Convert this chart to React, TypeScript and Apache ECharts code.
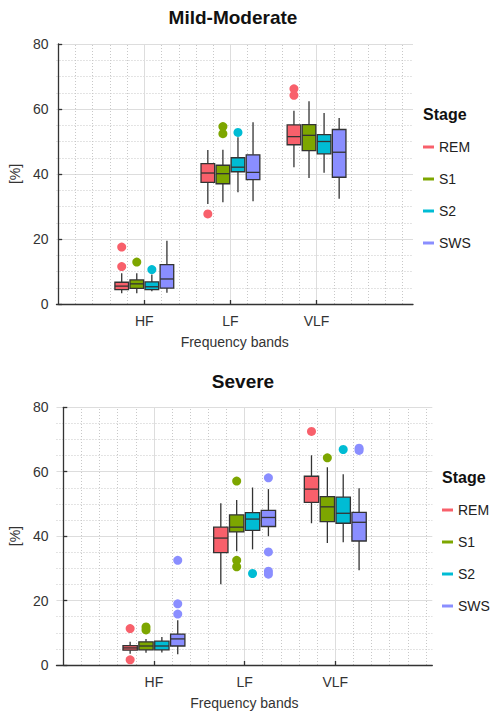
import React, { useEffect, useRef } from "react";
import * as echarts from "echarts";

// ---- data ----
const BANDS = ["HF", "LF", "VLF"];
const STAGES = ["REM", "S1", "S2", "SWS"];
const COLORS = ["#F8606B", "#7DA600", "#00BCD4", "#8A8EFF"];
const OFFSETS = [-0.2625, -0.0875, 0.0875, 0.2625];
const BOX_W = 0.158;

// [low, q1, median, q3, high] for HF, LF, VLF
const mmREM = [[3.3, 4.4, 5.5, 6.7, 9.5], [30.8, 37.4, 40.3, 43.2, 47.4], [42.1, 49.0, 51.5, 55.1, 59.5]];
const mmS1 = [[3.3, 4.8, 6.2, 7.4, 9.5], [31.3, 37.0, 40.1, 42.7, 47.5], [38.8, 47.2, 51.9, 55.2, 62.4]];
const mmS2 = [[3.9, 4.4, 5.3, 6.8, 9.1], [34.4, 40.7, 42.1, 45.0, 51.3], [40.4, 46.2, 50.0, 52.1, 58.8]];
const mmSWS = [[3.5, 4.9, 7.7, 12.1, 19.5], [31.6, 38.3, 40.5, 45.9, 55.9], [32.4, 39.0, 46.7, 53.7, 57.2]];

const svREM = [[3.5, 4.6, 5.3, 6.0, 7.2], [25.1, 34.9, 39.4, 42.8, 50.2], [44.0, 50.5, 54.6, 58.6, 65.1]];
const svS1 = [[3.8, 4.7, 5.9, 7.2, 8.1], [35.3, 41.3, 42.8, 46.6, 51.2], [37.9, 44.5, 49.1, 52.3, 61.4]];
const svS2 = [[3.9, 4.7, 5.9, 7.4, 8.7], [35.9, 41.8, 45.3, 47.3, 55.1], [38.1, 44.0, 47.1, 52.1, 59.2]];
const svSWS = [[3.3, 5.9, 8.1, 9.6, 13.9], [40.0, 43.0, 45.8, 48.0, 54.6], [29.4, 38.5, 44.3, 47.4, 54.9]];

// outliers: [bandIndex, value]
const mmOutREM = [[0, 17.5], [0, 11.5], [1, 27.7], [2, 66.2], [2, 64.2]];
const mmOutS1 = [[0, 12.9], [1, 54.6], [1, 52.4]];
const mmOutS2 = [[0, 10.6], [1, 52.8]];
const mmOutSWS: number[][] = [];

const svOutREM = [[0, 11.3], [0, 1.6], [2, 72.5]];
const svOutS1 = [[0, 11.8], [0, 10.9], [1, 57.1], [1, 32.5], [1, 30.5], [2, 64.3]];
const svOutS2 = [[1, 28.4], [2, 66.9]];
const svOutSWS = [[0, 32.5], [0, 19.0], [0, 15.8], [1, 58.1], [1, 35.1], [1, 29.1], [1, 28.2], [2, 67.3], [2, 66.6]];

const Y_TICKS = [0, 20, 40, 60, 80];

const PANELS = [
  { title: "Mild-Moderate", stats: [mmREM, mmS1, mmS2, mmSWS], outs: [mmOutREM, mmOutS1, mmOutS2, mmOutSWS] },
  { title: "Severe", stats: [svREM, svS1, svS2, svSWS], outs: [svOutREM, svOutS1, svOutS2, svOutSWS] },
];

// ---- layout ----
const FONT = "Liberation Sans, Arial, Helvetica, sans-serif";
const LAYOUT = [
  { left: 53, top: 44, width: 360, height: 260, xmin: -0.02, xmax: 4.12, titleX: 233, titleY: 8, legX: 423, legY: 140, stageY: 106 },
  { left: 53.3, top: 407.3, width: 379, height: 260, xmin: -0.075, xmax: 4.07, titleX: 243, titleY: 372, legX: 442, legY: 503, stageY: 469 },
];

function renderBox(params: any, api: any) {
  const x = api.value(0);
  const lo = api.coord([x, api.value(1)]);
  const q1 = api.coord([x, api.value(2)]);
  const md = api.coord([x, api.value(3)]);
  const q3 = api.coord([x, api.value(4)]);
  const hi = api.coord([x, api.value(5)]);
  const w = api.size([BOX_W, 0])[0];
  const cx = lo[0];
  const color = api.visual("color");
  const stroke = "#333";
  return {
    type: "group",
    children: [
      { type: "line", shape: { x1: cx, y1: lo[1], x2: cx, y2: q1[1] }, style: { stroke, lineWidth: 1.3 } },
      { type: "line", shape: { x1: cx, y1: q3[1], x2: cx, y2: hi[1] }, style: { stroke, lineWidth: 1.3 } },
      {
        type: "rect",
        shape: { x: cx - w / 2, y: q3[1], width: w, height: q1[1] - q3[1] },
        style: { fill: color, stroke, lineWidth: 1.3 },
      },
      { type: "line", shape: { x1: cx - w / 2, y1: md[1], x2: cx + w / 2, y2: md[1] }, style: { stroke, lineWidth: 1.3 } },
    ],
  };
}

function buildOption() {
  const grid: any[] = [];
  const xAxis: any[] = [];
  const yAxis: any[] = [];
  const series: any[] = [];
  const title: any[] = [];
  const legend: any[] = [];

  PANELS.forEach((panel, p) => {
    const L = LAYOUT[p];
    grid.push({ left: L.left, top: L.top, width: L.width, height: L.height, containLabel: false });
    xAxis.push({
      type: "value",
      gridIndex: p,
      min: L.xmin,
      max: L.xmax,
      name: "Frequency bands",
      nameLocation: "middle",
      nameGap: 31,
      nameTextStyle: { fontSize: 14, color: "#333", fontFamily: FONT },
      axisLine: { show: true, onZero: false, lineStyle: { color: "#333", width: 1.3 } },
      axisTick: { show: true, inside: true, length: 4, customValues: [1, 2, 3], lineStyle: { color: "#333", width: 1.3 } },
      axisLabel: {
        show: true,
        customValues: [1, 2, 3],
        formatter: (v: number) => BANDS[Math.round(v) - 1] || "",
        fontSize: 14,
        color: "#333",
        fontFamily: FONT,
        margin: 10,
      },
      splitLine: { show: false },
    });
    yAxis.push({
      type: "value",
      gridIndex: p,
      min: Y_TICKS[0],
      max: Y_TICKS[Y_TICKS.length - 1],
      interval: 20,
      name: "[%]",
      nameLocation: "middle",
      nameGap: 30,
      nameTextStyle: { fontSize: 14, color: "#333", fontFamily: FONT },
      axisLine: { show: true, lineStyle: { color: "#333", width: 1.3 } },
      axisTick: { show: true, inside: true, length: 4, lineStyle: { color: "#333", width: 1.3 } },
      axisLabel: { fontSize: 14, color: "#333", fontFamily: FONT, margin: 8 },
      splitLine: { show: true, lineStyle: { color: "#dddddd", width: 1 } },
      minorTick: { show: false, splitNumber: 4 },
      minorSplitLine: { show: true, lineStyle: { color: "#c8c8c8", width: 1, type: [1, 2] } },
    });

    // vertical grid lines via markLine
    const vLines: any[] = [];
    for (let k = 1; k * 0.2 <= 4.0001; k++) {
      const v = Math.round(k * 0.2 * 1000) / 1000;
      const major = Math.abs(v - Math.round(v)) < 1e-6 && v >= 1 && v <= 3;
      vLines.push({
        xAxis: v,
        lineStyle: major
          ? { color: "#dddddd", width: 1, type: "solid" }
          : { color: "#c8c8c8", width: 1, type: [1, 2] },
      });
    }
    series.push({
      type: "line",
      name: "grid" + p,
      xAxisIndex: p,
      yAxisIndex: p,
      data: [],
      silent: true,
      z: 0,
      markLine: {
        silent: true,
        symbol: ["none", "none"],
        label: { show: false },
        animation: false,
        z: 0,
        data: vLines,
      },
    });

    STAGES.forEach((stage, s) => {
      const boxData = panel.stats[s].map((st, b) => [b + 1 + OFFSETS[s], ...st]);
      series.push({
        type: "custom",
        name: stage,
        xAxisIndex: p,
        yAxisIndex: p,
        itemStyle: { color: COLORS[s] },
        renderItem: renderBox,
        encode: { x: 0, y: [1, 2, 3, 4, 5] },
        data: boxData,
        z: 3,
      });
      series.push({
        type: "scatter",
        name: stage,
        xAxisIndex: p,
        yAxisIndex: p,
        symbol: "circle",
        symbolSize: 9,
        itemStyle: { color: COLORS[s], opacity: 1 },
        data: panel.outs[s].map(([b, v]) => [b + 1 + OFFSETS[s], v]),
        z: 4,
      });
    });

    title.push({
      text: panel.title,
      left: L.titleX,
      top: L.titleY,
      textAlign: "center",
      padding: 0,
      textStyle: { fontSize: 19, fontWeight: "bold", color: "#111", fontFamily: FONT },
    });
    title.push({
      text: "Stage",
      left: L.legX,
      top: L.stageY,
      padding: 0,
      textStyle: { fontSize: 16, fontWeight: "bold", color: "#111", fontFamily: FONT },
    });
    legend.push({
      data: STAGES,
      orient: "vertical",
      left: L.legX,
      top: L.legY,
      padding: 0,
      icon: "rect",
      itemWidth: 11,
      itemHeight: 3,
      itemGap: 18,
      itemStyle: { borderWidth: 0 },
      textStyle: { fontSize: 14, color: "#222", fontFamily: FONT },
    });
  });

  return {
    animation: false,
    backgroundColor: "#ffffff",
    textStyle: { fontFamily: FONT },
    title,
    legend,
    grid,
    xAxis,
    yAxis,
    series,
  };
}

export default function App() {
  const ref = useRef<HTMLDivElement>(null);
  useEffect(() => {
    if (!ref.current) return;
    const chart = echarts.init(ref.current, undefined, { renderer: "svg" });
    chart.setOption(buildOption() as any);
    return () => chart.dispose();
  }, []);
  return (
    <div
      ref={ref}
      style={{ position: "absolute", left: 0, top: 0, width: 493, height: 711, background: "#fff" }}
    />
  );
}
